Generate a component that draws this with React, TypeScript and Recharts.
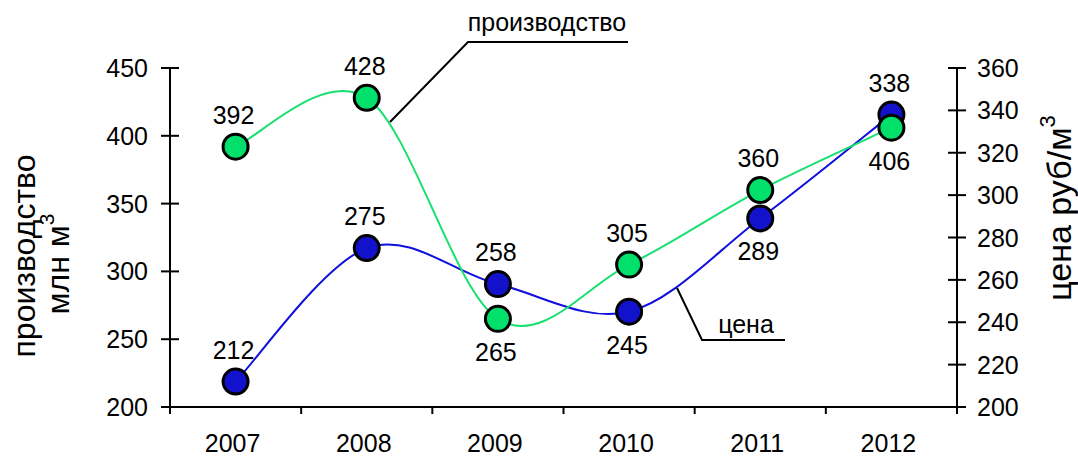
import { ComposedChart, Line, XAxis, YAxis, LabelList } from "recharts";

const years = ["2007", "2008", "2009", "2010", "2011", "2012"];
const production = [392, 428, 265, 305, 360, 406];
const price = [212, 275, 258, 245, 289, 338];
const prodTicks = [200, 250, 300, 350, 400, 450];
const priceTicks = [200, 220, 240, 260, 280, 300, 320, 340, 360];
const prodLabelSide = ["top", "top", "bottom", "top", "top", "bottom"];
const priceLabelSide = ["top", "top", "top", "bottom", "bottom", "top"];

const data = years.map((year, i) => ({ year, production: production[i], price: price[i] }));

const W = 1078;
const H = 457;
const PLOT_LEFT = 170;
const PLOT_RIGHT = 957;
const PLOT_TOP = 68;
const PLOT_BOTTOM = 407;
const BAND = (PLOT_RIGHT - PLOT_LEFT) / years.length;

const FONT = "'Liberation Sans', Arial, sans-serif";
const GREEN = "#00e06a";
const GREEN_LINE = "#18e070";
const BLUE = "#1212cc";
const BLUE_LINE = "#1010dd";

// catmull-rom style smoothing, close to the spreadsheet "smoothed line"
function smoothCurve(context: any) {
  let pts: number[][] = [];
  return {
    areaStart() {},
    areaEnd() {},
    lineStart() {
      pts = [];
    },
    point(x: number, y: number) {
      pts.push([+x, +y]);
    },
    lineEnd() {
      if (!pts.length) return;
      context.moveTo(pts[0][0], pts[0][1]);
      const t = 1 / 6;
      for (let i = 0; i < pts.length - 1; i++) {
        const p0 = pts[i - 1] || pts[i];
        const p1 = pts[i];
        const p2 = pts[i + 1];
        const p3 = pts[i + 2] || p2;
        context.bezierCurveTo(
          p1[0] + (p2[0] - p0[0]) * t,
          p1[1] + (p2[1] - p0[1]) * t,
          p2[0] - (p3[0] - p1[0]) * t,
          p2[1] - (p3[1] - p1[1]) * t,
          p2[0],
          p2[1]
        );
      }
    }
  };
}

const YTick = ({ x, y, payload, side }: any) => (
  <g>
    <line x1={x - 9} x2={x + 9} y1={y} y2={y} stroke="#000" strokeWidth={2} />
    <text
      x={side === "left" ? x - 22 : x + 20}
      y={y + 9}
      textAnchor={side === "left" ? "end" : "start"}
      fontSize={25}
      fontFamily={FONT}
      fill="#000"
    >
      {payload.value}
    </text>
  </g>
);

const XTick = ({ x, y, payload, index }: any) => (
  <g>
    <line x1={x - BAND / 2} x2={x - BAND / 2} y1={y} y2={y + 7} stroke="#000" strokeWidth={2} />
    {index === years.length - 1 && (
      <line x1={x + BAND / 2} x2={x + BAND / 2} y1={y} y2={y + 7} stroke="#000" strokeWidth={2} />
    )}
    <text x={x - 3} y={y + 45} textAnchor="middle" fontSize={25} fontFamily={FONT} fill="#000">
      {payload.value}
    </text>
  </g>
);

const pointLabel = (sides: string[]) => (props: any) => {
  const { x, y, value, index } = props;
  const below = sides[index] === "bottom";
  return (
    <text
      x={x - 2}
      y={below ? y + 42 : y - 23}
      textAnchor="middle"
      fontSize={25}
      fontFamily={FONT}
      fill="#000"
    >
      {value}
    </text>
  );
};

export default function App() {
  return (
    <div style={{ position: "absolute", left: 0, top: 0, width: W, height: H, background: "#fff", fontFamily: FONT }}>
      <ComposedChart
        width={W}
        height={H}
        data={data}
        margin={{ top: PLOT_TOP, right: 0, bottom: 0, left: 0 }}
      >
        <XAxis
          dataKey="year"
          scale="band"
          height={H - PLOT_BOTTOM}
          tickSize={0}
          tickMargin={0}
          tickLine={false}
          axisLine={{ stroke: "#000", strokeWidth: 2 }}
          tick={<XTick />}
          interval={0}
        />
        <YAxis
          yAxisId="prod"
          orientation="left"
          width={PLOT_LEFT}
          domain={[200, 450]}
          ticks={prodTicks}
          tickSize={0}
          tickMargin={0}
          tickLine={false}
          axisLine={{ stroke: "#000", strokeWidth: 2 }}
          tick={<YTick side="left" />}
          interval={0}
        />
        <YAxis
          yAxisId="price"
          orientation="right"
          width={W - PLOT_RIGHT}
          domain={[200, 360]}
          ticks={priceTicks}
          tickSize={0}
          tickMargin={0}
          tickLine={false}
          axisLine={{ stroke: "#000", strokeWidth: 2 }}
          tick={<YTick side="right" />}
          interval={0}
        />
        <Line
          yAxisId="price"
          dataKey="price"
          type={smoothCurve as any}
          stroke={BLUE_LINE}
          strokeWidth={2}
          dot={{ r: 12.5, fill: BLUE, stroke: "#000", strokeWidth: 3 }}
          isAnimationActive={false}
        >
          <LabelList dataKey="price" content={pointLabel(priceLabelSide)} />
        </Line>
        <Line
          yAxisId="prod"
          dataKey="production"
          type={smoothCurve as any}
          stroke={GREEN_LINE}
          strokeWidth={2}
          dot={{ r: 12.5, fill: GREEN, stroke: "#000", strokeWidth: 3 }}
          isAnimationActive={false}
        >
          <LabelList dataKey="production" content={pointLabel(prodLabelSide)} />
        </Line>
      </ComposedChart>

      {/* axis titles and callouts */}
      <svg
        width={W}
        height={H}
        style={{ position: "absolute", left: 0, top: 0, pointerEvents: "none" }}
        fontFamily={FONT}
      >
        <text
          transform="translate(24 256) rotate(-90)"
          textAnchor="middle"
          dominantBaseline="central"
          fontSize={32}
          fill="#000"
        >
          производство
        </text>
        <text
          transform="translate(58 264) rotate(-90)"
          textAnchor="middle"
          dominantBaseline="central"
          fontSize={32}
          fill="#000"
        >
          млн м<tspan fontSize={21} dy={-12}>3</tspan>
        </text>
        <text
          transform="translate(1059 208) rotate(-90)"
          textAnchor="middle"
          dominantBaseline="central"
          fontSize={34}
          fill="#000"
        >
          цена руб/м<tspan fontSize={22} dy={-12}>3</tspan>
        </text>

        <text x={547} y={31} textAnchor="middle" fontSize={25} fill="#000">
          производство
        </text>
        <polyline points="390,122 468,42 628,42" fill="none" stroke="#000" strokeWidth={2} />

        <text x={746} y={333} textAnchor="middle" fontSize={25} fill="#000">
          цена
        </text>
        <polyline points="677,288 702,340 785,340" fill="none" stroke="#000" strokeWidth={2} />
      </svg>
    </div>
  );
}
